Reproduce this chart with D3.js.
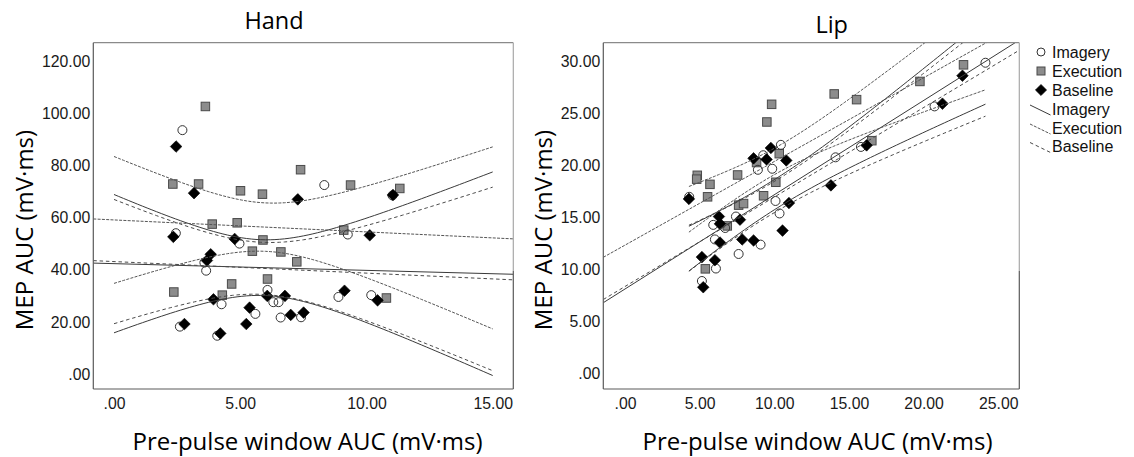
<!DOCTYPE html>
<html>
<head>
<meta charset="utf-8">
<script src="https://cdn.jsdelivr.net/npm/d3@7"></script>
<style>
  html, body { margin: 0; padding: 0; background: #fff; }
  svg { display: block; }
</style>
</head>
<body>
<svg id="chart" width="1134" height="457"></svg>
<script>
// ---------- Data ----------
const groups = ["Imagery", "Execution", "Baseline"];

// Hand: pre-pulse window AUC (x) vs MEP AUC (y), mV·ms
const handImageryX   = [2.71, 2.45, 4.97, 3.58, 3.65, 6.08, 4.26, 6.31, 6.52, 5.60, 6.60, 7.41, 2.61, 4.09, 8.33, 9.26, 8.89, 10.19, 11.03];
const handImageryY   = [93.7, 54.1, 50.1, 42.8, 39.7, 32.3, 26.8, 27.6, 27.6, 23.1, 21.7, 21.8, 18.2, 14.7, 72.6, 53.6, 29.6, 30.3, 68.6];
const handExecutionX = [3.62, 2.33, 3.35, 5.01, 5.88, 7.39, 3.89, 4.88, 5.90, 5.48, 6.61, 7.24, 4.66, 6.08, 2.37, 4.29, 9.37, 11.32, 9.10, 10.79];
const handExecutionY = [102.8, 73.0, 73.0, 70.4, 69.1, 78.5, 57.6, 58.1, 51.5, 47.2, 46.9, 43.1, 34.6, 36.5, 31.5, 30.3, 72.6, 71.3, 55.3, 29.2];
const handBaselineX  = [2.46, 3.17, 7.28, 2.35, 4.78, 3.83, 3.68, 3.94, 6.07, 6.77, 5.37, 7.00, 7.51, 5.24, 2.79, 4.21, 11.05, 10.13, 9.13, 10.44];
const handBaselineY  = [87.4, 69.5, 67.1, 52.7, 51.9, 46.0, 43.6, 28.7, 30.0, 30.0, 25.5, 22.7, 23.6, 19.2, 19.2, 15.6, 68.8, 53.3, 32.0, 28.3];

// Lip
const lipImageryX   = [10.44, 9.26, 8.90, 9.86, 4.30, 10.08, 10.35, 7.43, 5.91, 6.71, 6.02, 9.08, 7.61, 6.09, 5.15, 14.10, 15.80, 20.73, 24.14];
const lipImageryY   = [22.0, 21.0, 19.6, 19.7, 17.0, 16.6, 15.4, 15.1, 14.3, 14.0, 12.9, 12.4, 11.5, 10.1, 8.9, 20.8, 21.8, 25.7, 29.9];
const lipExecutionX = [9.82, 9.50, 4.84, 4.80, 5.69, 7.54, 5.53, 8.81, 10.33, 10.10, 9.28, 7.61, 7.94, 6.85, 5.38, 14.01, 15.51, 19.75, 22.67, 16.53];
const lipExecutionY = [25.9, 24.2, 19.07, 18.7, 18.2, 19.1, 17.0, 20.3, 21.15, 18.4, 17.1, 16.2, 16.35, 14.2, 10.07, 26.9, 26.35, 28.1, 29.7, 22.4];
const lipBaselineX  = [9.77, 8.61, 9.48, 10.80, 4.28, 10.98, 6.29, 6.36, 7.70, 10.55, 6.36, 7.85, 8.61, 5.15, 6.02, 5.24, 13.79, 16.18, 21.26, 22.60];
const lipBaselineY  = [21.7, 20.7, 20.6, 20.5, 16.8, 16.4, 15.1, 14.4, 14.8, 13.75, 12.6, 12.9, 12.8, 11.2, 10.9, 8.3, 18.1, 21.95, 25.96, 28.65];

// Linear fits per group (order: Imagery, Execution, Baseline) with 95% CI of the mean:
// half-width(x) = sqrt(ciHalf^2 + ciSpread^2 * (x - meanX)^2)
const handFitIntercept = [42.4, 59.2, 43.2];
const handFitSlope     = [-0.258, -0.46, -0.444];
const handFitMeanX     = [5.89, 6.01, 5.86];
const handCiHalf       = [10.7, 9.3, 10.0];
const handCiSpread     = [4.13, 3.75, 3.70];
const handCiRange      = [0, 15];

const lipFitIntercept = [8.13, 12.35, 8.37];
const lipFitSlope     = [0.907, 0.805, 0.861];
const lipFitMeanX     = [10.10, 10.12, 9.89];
const lipCiHalf       = [1.45, 1.27, 1.50];
const lipCiSpread     = [0.274, 0.307, 0.290];
const lipCiRange      = [4.28, 24.14];

// Axis ticks
const handXTicks = [0, 5, 10, 15];
const handYTicks = [0, 20, 40, 60, 80, 100, 120];
const lipXTicks  = [0, 5, 10, 15, 20, 25];
const lipYTicks  = [0, 5, 10, 15, 20, 25, 30];

// ---------- Drawing ----------
const svg = d3.select("#chart");
const tickFormat = v => d3.format(".2f")(v).replace(/^0\./, ".");
const zip = (xs, ys) => xs.map((x, i) => [x, ys[i]]);

const lineStyle = {
  Imagery:   { stroke: "#3a3a3a", dash: null },
  Execution: { stroke: "#555",    dash: "3,1.3" },
  Baseline:  { stroke: "#4a4a4a", dash: "3.5,2.8" }
};

const panels = [
  {
    id: "hand", title: "Hand", titleX: 274, titleY: 29,
    frame: { left: 93.3, right: 513.3, top: 42.7, bottom: 389 },
    xTickPos: [114, 492.7], yTickPos: [374, 61.7],
    xTicks: handXTicks, yTicks: handYTicks,
    yLabelX: 33, xLabelX: 307.5,
    points: [zip(handImageryX, handImageryY), zip(handExecutionX, handExecutionY), zip(handBaselineX, handBaselineY)],
    fit: { a: handFitIntercept, b: handFitSlope, m: handFitMeanX, h: handCiHalf, k: handCiSpread, range: handCiRange }
  },
  {
    id: "lip", title: "Lip", titleX: 831.7, titleY: 33,
    frame: { left: 603.3, right: 1019.3, top: 42.7, bottom: 389 },
    xTickPos: [625, 998.3], yTickPos: [373.5, 61.7],
    xTicks: lipXTicks, yTicks: lipYTicks,
    yLabelX: 551.5, xLabelX: 817.5,
    points: [zip(lipImageryX, lipImageryY), zip(lipExecutionX, lipExecutionY), zip(lipBaselineX, lipBaselineY)],
    fit: { a: lipFitIntercept, b: lipFitSlope, m: lipFitMeanX, h: lipCiHalf, k: lipCiSpread, range: lipCiRange }
  }
];

function drawMarker(sel, group, size) {
  if (group === "Imagery") {
    sel.append("circle").attr("r", size.r)
      .attr("fill", "none").attr("stroke", "#333").attr("stroke-width", 1);
  } else if (group === "Execution") {
    sel.append("rect").attr("x", -size.sq / 2).attr("y", -size.sq / 2)
      .attr("width", size.sq).attr("height", size.sq)
      .attr("fill", "#8c8c8c").attr("stroke", "#4a4a4a").attr("stroke-width", 1);
  } else {
    const d = size.dm;
    sel.append("path").attr("d", `M0,${-d}L${d},0L0,${d}L${-d},0Z`)
      .attr("fill", "#000").attr("stroke", "#000").attr("stroke-width", 0.6);
  }
}

const markerSize = { r: 4.5, sq: 8.5, dm: 5.8 };

panels.forEach(p => {
  const f = p.frame;
  const ticks01x = [p.xTicks[0], p.xTicks[p.xTicks.length - 1]];
  const ticks01y = [p.yTicks[0], p.yTicks[p.yTicks.length - 1]];
  const x = d3.scaleLinear().domain(ticks01x).range(p.xTickPos);
  const y = d3.scaleLinear().domain(ticks01y).range(p.yTickPos);

  const g = svg.append("g").attr("class", "panel-" + p.id);

  g.append("clipPath").attr("id", "clip-" + p.id)
    .append("rect").attr("x", f.left).attr("y", f.top)
    .attr("width", f.right - f.left).attr("height", f.bottom - f.top);

  // Title
  g.append("text").attr("x", p.titleX).attr("y", p.titleY)
    .attr("text-anchor", "middle")
    .attr("font-family", "'Open Sans', sans-serif").attr("font-size", 23.5)
    .attr("fill", "#000").text(p.title);

  // Axes (labels only, no tick marks)
  const xAxis = d3.axisBottom(x).tickValues(p.xTicks).tickFormat(tickFormat).tickSize(0).tickPadding(9);
  const yAxis = d3.axisLeft(y).tickValues(p.yTicks).tickFormat(tickFormat).tickSize(0).tickPadding(3);
  const gx = g.append("g").attr("transform", `translate(0,${f.bottom})`).call(xAxis);
  const gy = g.append("g").attr("transform", `translate(${f.left},0)`).call(yAxis);
  [gx, gy].forEach(ax => {
    ax.select(".domain").remove();
    ax.selectAll("text").attr("font-family", "'Liberation Sans', Arial, sans-serif")
      .attr("font-size", 15.8).attr("fill", "#1a1a1a");
  });

  // Axis titles
  g.append("text").attr("x", p.xLabelX).attr("y", 449.5)
    .attr("text-anchor", "middle")
    .attr("font-family", "'Open Sans', sans-serif").attr("font-size", 24)
    .attr("fill", "#000").text("Pre-pulse window AUC (mV·ms)");
  g.append("text")
    .attr("transform", `translate(${p.yLabelX},230) rotate(-90)`)
    .attr("text-anchor", "middle")
    .attr("font-family", "'Open Sans', sans-serif").attr("font-size", 24)
    .attr("fill", "#000").text("MEP AUC (mV·ms)");

  // Markers: squares, then circles, then diamonds on top
  const plot = g.append("g").attr("clip-path", `url(#clip-${p.id})`);
  [1, 0, 2].forEach(gi => {
    const grp = groups[gi];
    plot.append("g").selectAll("g").data(p.points[gi]).join("g")
      .attr("transform", d => `translate(${x(d[0])},${y(d[1])})`)
      .each(function () { drawMarker(d3.select(this), grp, markerSize); });
  });

  // Fit lines (full axis width) and 95% confidence curves
  const line = d3.line().x(d => x(d[0])).y(d => y(d[1]));
  const xLo = x.invert(f.left), xHi = x.invert(f.right);
  const steps = 80;
  groups.forEach((grp, gi) => {
    const a = p.fit.a[gi], b = p.fit.b[gi], m = p.fit.m[gi], h = p.fit.h[gi], k = p.fit.k[gi];
    const st = lineStyle[grp];
    const fitPts = [[xLo, a + b * xLo], [xHi, a + b * xHi]];
    const xs = d3.range(steps + 1).map(i => p.fit.range[0] + (p.fit.range[1] - p.fit.range[0]) * i / steps);
    const half = xv => Math.sqrt(h * h + k * k * (xv - m) * (xv - m));
    const upper = xs.map(xv => [xv, a + b * xv + half(xv)]);
    const lower = xs.map(xv => [xv, a + b * xv - half(xv)]);
    [fitPts, upper, lower].forEach(pts => {
      plot.append("path").attr("d", line(pts))
        .attr("fill", "none").attr("stroke", st.stroke).attr("stroke-width", 1)
        .attr("stroke-dasharray", st.dash);
    });
  });

  // Frame
  const frame = g.append("g").attr("fill", "none").attr("stroke-width", 1.2);
  frame.append("line").attr("x1", f.left).attr("x2", f.right).attr("y1", f.top).attr("y2", f.top).attr("stroke", "#8a8a8a");
  frame.append("line").attr("x1", f.left).attr("x2", f.left).attr("y1", f.top).attr("y2", f.bottom).attr("stroke", "#5a5a5a");
  frame.append("line").attr("x1", f.left).attr("x2", f.right).attr("y1", f.bottom).attr("y2", f.bottom).attr("stroke", "#5a5a5a");
  frame.append("line").attr("x1", f.right).attr("x2", f.right).attr("y1", f.top).attr("y2", 271).attr("stroke", "#a8a8a8");
  frame.append("line").attr("x1", f.right).attr("x2", f.right).attr("y1", 271).attr("y2", f.bottom).attr("stroke", "#5a5a5a");
});

// ---------- Legend ----------
const legend = svg.append("g").attr("font-family", "'Liberation Sans', Arial, sans-serif")
  .attr("font-size", 16).attr("fill", "#111");
const legendRows = [52, 71, 90, 109, 128, 146.5];
const legendMarkerSize = { r: 4, sq: 8, dm: 5.6 };
groups.forEach((grp, i) => {
  const row = legend.append("g").attr("transform", `translate(1041,${legendRows[i]})`);
  drawMarker(row, grp, legendMarkerSize);
  legend.append("text").attr("x", 1052).attr("y", legendRows[i]).attr("dy", "0.36em").text(grp);
});
groups.forEach((grp, i) => {
  const yy = legendRows[i + 3];
  const st = lineStyle[grp];
  legend.append("line").attr("x1", 1030).attr("y1", yy - 4).attr("x2", 1050.5).attr("y2", yy + 6)
    .attr("stroke", st.stroke).attr("stroke-width", 1).attr("stroke-dasharray", st.dash);
  legend.append("text").attr("x", 1052).attr("y", yy).attr("dy", "0.36em").text(grp);
});
</script>
</body>
</html>
